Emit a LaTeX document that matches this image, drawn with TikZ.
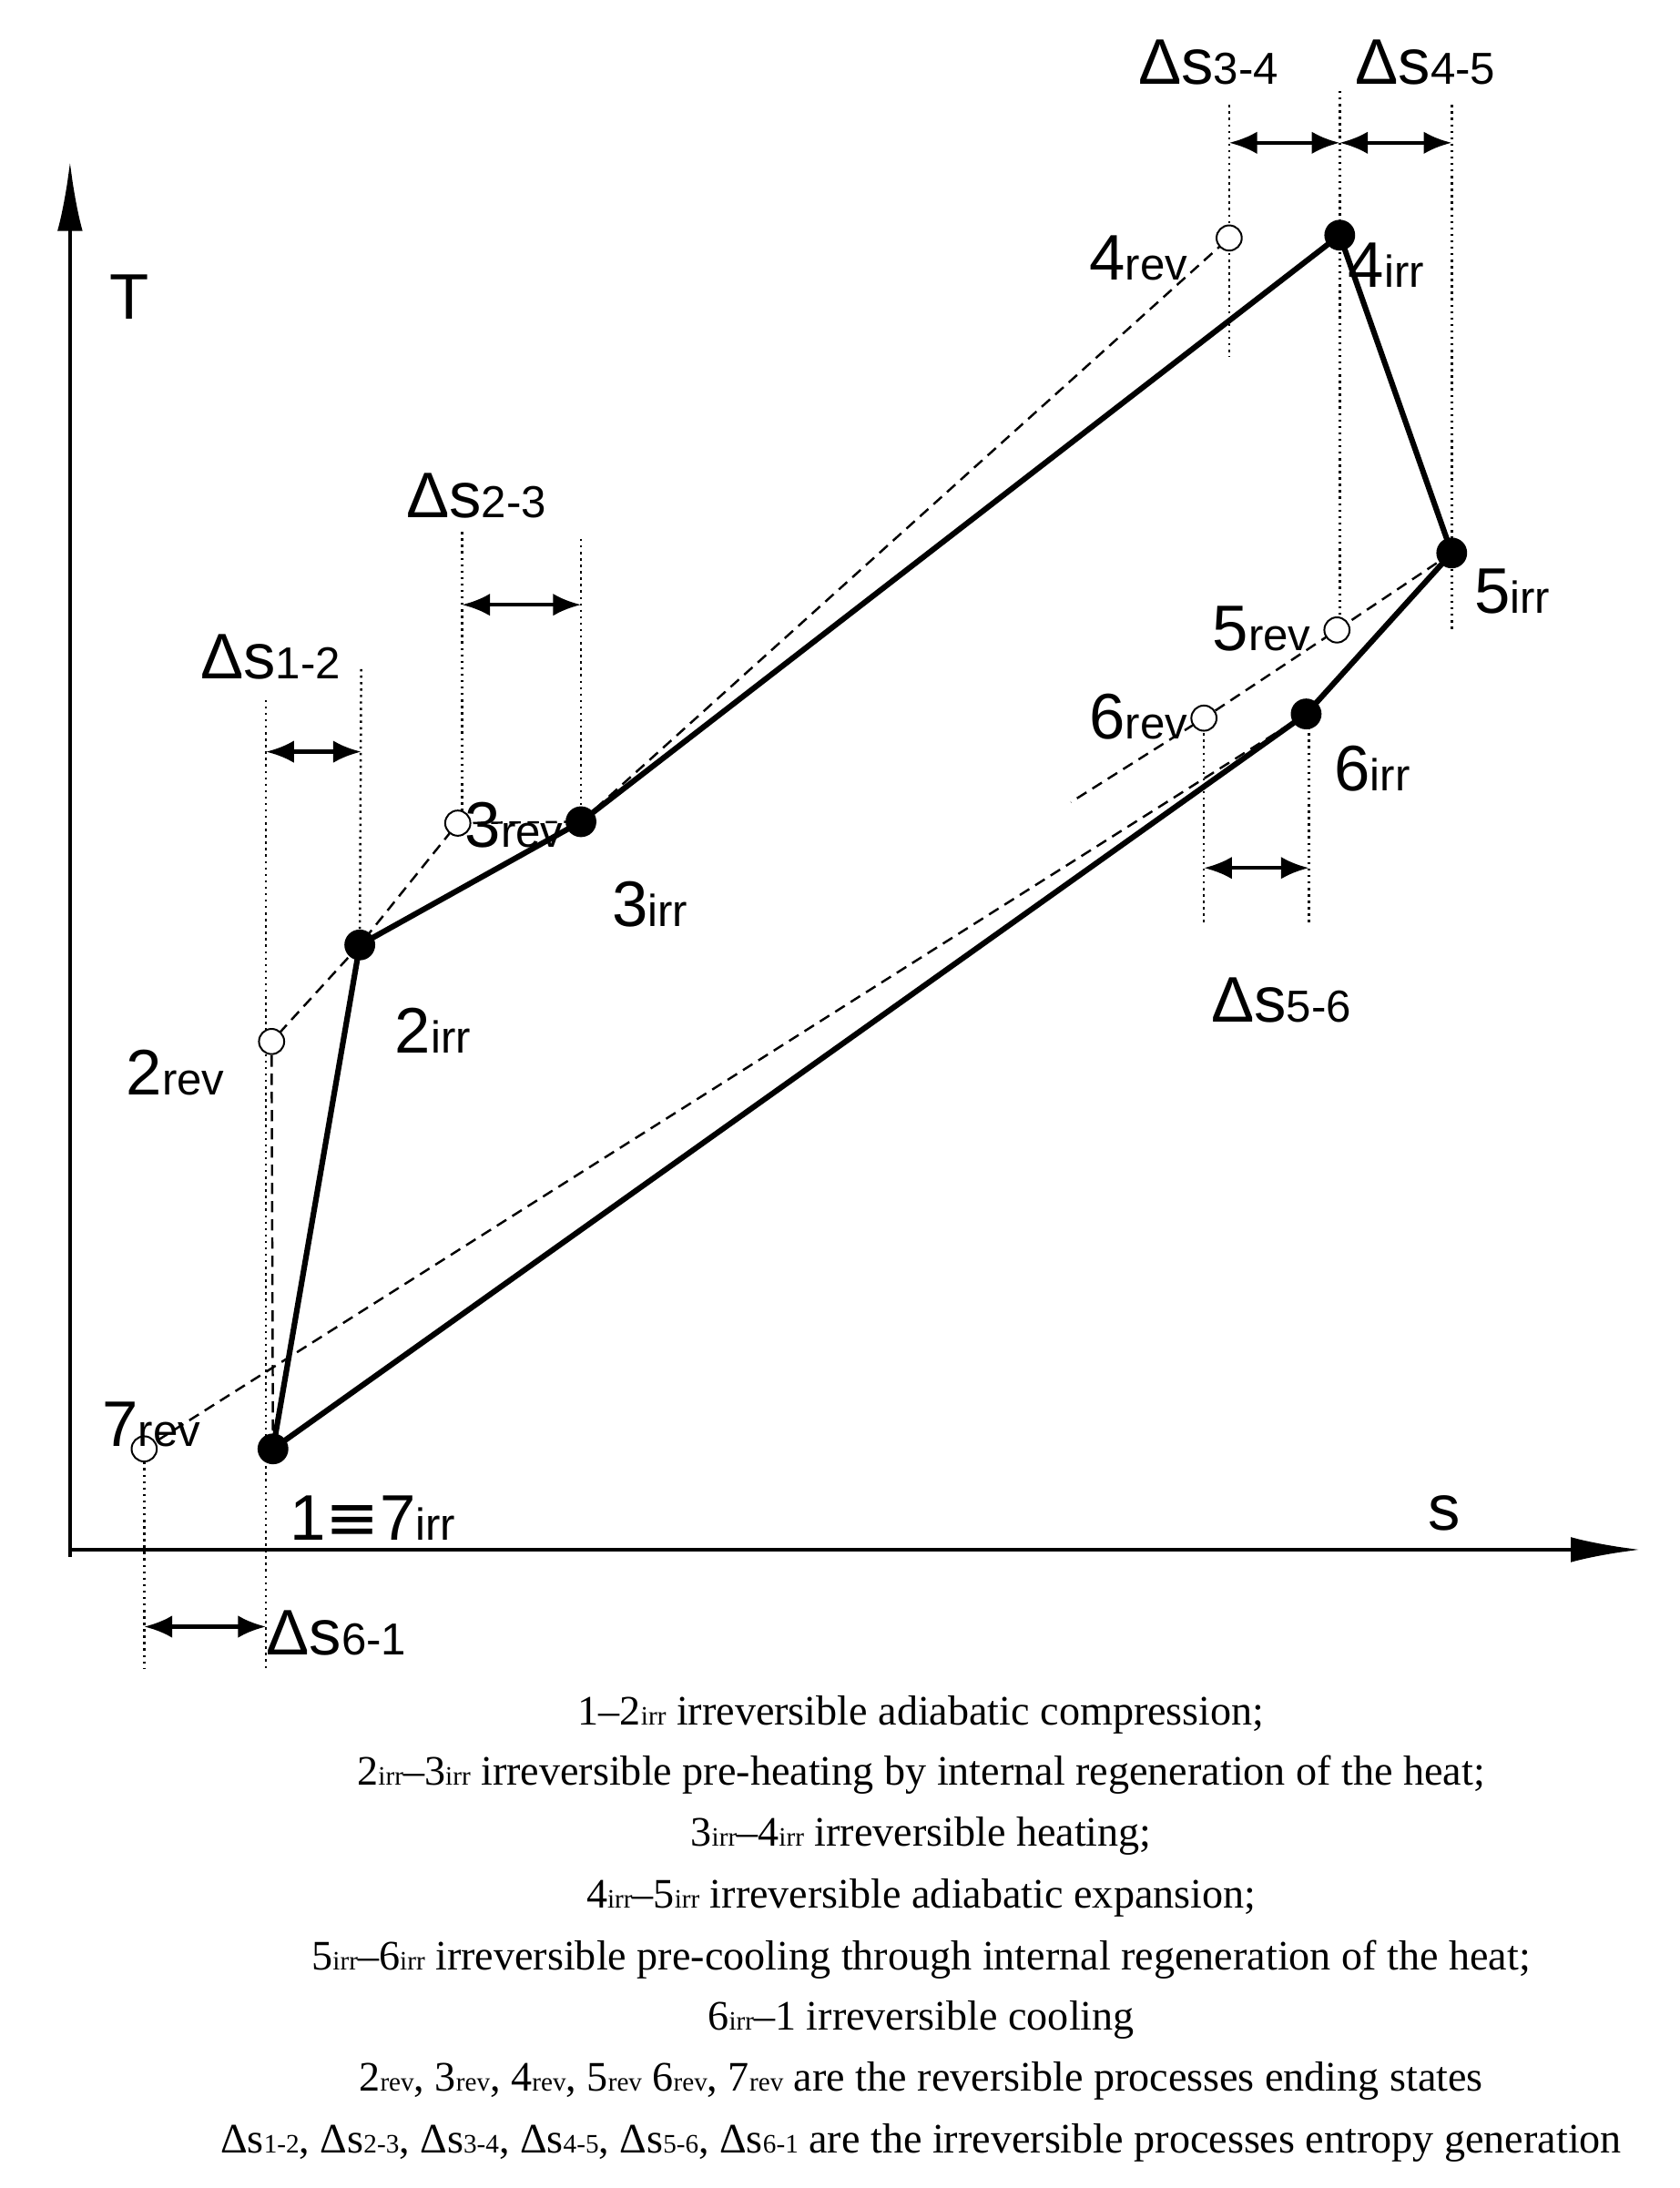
\documentclass[tikz,border=0pt]{standalone}
\usepackage{fontspec}
\setmainfont{Liberation Serif}
\newfontfamily\lab{Liberation Sans}
\usetikzlibrary{arrows.meta}
\newfontfamily\djv{DejaVu Sans}
\begin{document}
\begin{tikzpicture}[x=1pt,y=-1pt,
 full/.style={circle,fill=black,inner sep=0,minimum size=22pt},
 open/.style={circle,draw=black,fill=white,line width=1.3pt,inner sep=0,minimum size=18pt},
 cyc/.style={line width=4pt,line join=round},
 dsh/.style={dashed,line width=1.6pt,dash pattern=on 8pt off 5pt},
 dotln/.style={line width=1.6pt,dash pattern=on 1.6pt off 3pt},
 dar/.style={line width=2.8pt,{Latex[length=20pt,width=16pt]}-{Latex[length=20pt,width=16pt]}},
 lb/.style={font=\lab\fontsize{46}{46}\selectfont,inner sep=0,anchor=base west},
 captxt/.style={font=\fontsize{30}{30}\selectfont,anchor=base,inner sep=0}]
\useasboundingbox (0,0) rectangle (1200,1563);
\newcommand\sub[1]{{\fontsize{32}{32}\selectfont #1}}
\newcommand\dsub[1]{{\fontsize{32}{32}\selectfont #1}}
\newcommand\csub[1]{{\fontsize{19}{19}\selectfont #1}}
% axes
\coordinate (O) at (50,1107);
\coordinate (Ty) at (50,115);
\coordinate (Sx) at (1172,1107);
\draw[line width=3pt,-{Latex[length=50pt,width=18pt]}] (50,1112) -- (Ty);
\draw[line width=3pt,-{Latex[length=50pt,width=18pt]}] (O) -- (Sx);
% points
\coordinate (p1) at (195,1035);
\coordinate (p2) at (257,675);
\coordinate (p3) at (415,587);
\coordinate (p4) at (957,168);
\coordinate (p5) at (1037,395);
\coordinate (p6) at (933,510);
\coordinate (r2) at (194,744);
\coordinate (r3) at (327,588);
\coordinate (r4) at (878,170);
\coordinate (r5) at (955,450);
\coordinate (r6) at (860,513);
\coordinate (r7) at (103,1035);
\coordinate (e6) at (765,573);
% dotted verticals
\draw[dotln] (190,500)--(190,1192);
\draw[dotln] (258,478)--(p2);
\draw[dotln] (330,380)--(330,590);
\draw[dotln] (415,385)--(p3);
\draw[dotln] (878,75)--(878,255);
\draw[dotln] (957,65)--(957,450);
\draw[dotln] (1037,75)--(1037,450);
\draw[dotln] (860,510)--(860,660);
\draw[dotln] (935,510)--(935,660);
\draw[dotln] (103,1035)--(103,1192);
% dashed
\draw[dsh] (p1)--(r2)--(p2)--(r3)--(p3)--(r4);
\draw[dsh] (p5)--(r5)--(r6)--(e6);
\draw[dsh] (p6)--(r7);
% cycle
\draw[cyc] (p1)--(p2)--(p3)--(p4)--(p5)--(p6)--cycle;
\foreach \r in {r2,r3,r4,r5,r6,r7} \node[open] (n\r) at (\r) {};
\foreach \p in {p1,p2,p3,p4,p5,p6} \node[full] (n\p) at (\p) {};
% double arrows
\draw[dar] (190,537)--(258,537);
\draw[dar] (330,432)--(415,432);
\draw[dar] (878,102)--(957,102);
\draw[dar] (957,102)--(1037,102);
\draw[dar] (860,620)--(935,620);
\draw[dar] (103,1162)--(190,1162);
% delta labels
\node[lb] (d12) at (143,485) {Δs\dsub{1-2}};
\node[lb] (d23) at (290,370) {Δs\dsub{2-3}};
\node[lb] (d34) at (813,60) {Δs\dsub{3-4}};
\node[lb] (d45) at (968,60) {Δs\dsub{4-5}};
\node[lb] (d56) at (865,730) {Δs\dsub{5-6}};
\node[lb] (d61) at (190,1182) {Δs\dsub{6-1}};
% point labels
\node[lb] (lT) at (78,228) {T};
\node[lb] (ls) at (1020,1093) {s};
\node[lb] (l4r) at (778,200) {4\sub{rev}};
\node[lb] (l4i) at (963,205) {4\sub{irr}};
\node[lb] (l5i) at (1053,438) {5\sub{irr}};
\node[lb] (l5r) at (866,465) {5\sub{rev}};
\node[lb] (l6r) at (778,528) {6\sub{rev}};
\node[lb] (l6i) at (953,565) {6\sub{irr}};
\node[lb] (l3r) at (332,605) {3\sub{rev}};
\node[lb] (l3i) at (437,662) {3\sub{irr}};
\node[lb] (l2i) at (282,752) {2\sub{irr}};
\node[lb] (l2r) at (90,782) {2\sub{rev}};
\node[lb] (l7r) at (73,1033) {7\sub{rev}};
\node[lb] (l1) at (207,1100) {1{\djv ≡}7\sub{irr}};
% caption
\node[captxt] (c1) at (658,1232) {1--2\csub{irr} irreversible adiabatic compression;};
\node[captxt] (c2) at (658,1275) {2\csub{irr}--3\csub{irr} irreversible pre-heating by internal regeneration of the heat;};
\node[captxt] (c3) at (658,1319) {3\csub{irr}--4\csub{irr} irreversible heating;};
\node[captxt] (c4) at (658,1363) {4\csub{irr}--5\csub{irr} irreversible adiabatic expansion;};
\node[captxt] (c5) at (658,1407) {5\csub{irr}--6\csub{irr} irreversible pre-cooling through internal regeneration of the heat;};
\node[captxt] (c6) at (658,1450) {6\csub{irr}--1 irreversible cooling};
\node[captxt] (c7) at (658,1494) {2\csub{rev}, 3\csub{rev}, 4\csub{rev}, 5\csub{rev} 6\csub{rev}, 7\csub{rev} are the reversible processes ending states};
\node[captxt] (c8) at (658,1538) {Δs\csub{1-2}, Δs\csub{2-3}, Δs\csub{3-4}, Δs\csub{4-5}, Δs\csub{5-6}, Δs\csub{6-1} are the irreversible processes entropy generation};
\end{tikzpicture}
\end{document}
